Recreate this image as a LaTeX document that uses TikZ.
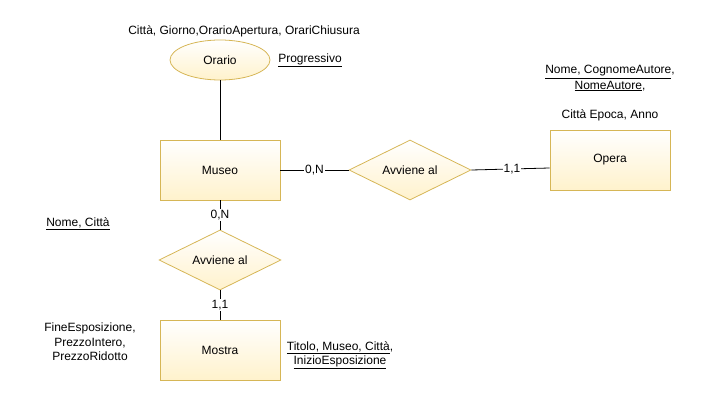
\documentclass[tikz,border=0pt]{standalone}
\usepackage{fontspec}
\setmainfont{Liberation Sans}
\usetikzlibrary{shapes.geometric}
\definecolor{erfill}{HTML}{FFF2CC}
\definecolor{erline}{HTML}{D6B656}
\tikzset{
  txt/.style={font=\fontsize{12}{14}\selectfont},
  entity/.style={txt, draw=erline, top color=white, bottom color=erfill, minimum width=120pt, minimum height=60pt, inner sep=0pt, line width=0.8pt},
  relation/.style={txt, diamond, aspect=2, draw=erline, top color=white, bottom color=erfill, minimum width=122pt, minimum height=60pt, inner sep=0pt, line width=0.8pt},
  attrib/.style={txt, ellipse, draw=erline, top color=white, bottom color=erfill, minimum width=100pt, minimum height=40pt, inner sep=0pt, line width=0.8pt},
  conn/.style={draw=black, line width=0.8pt},
  card/.style={txt, fill=white, inner sep=1pt},
  label/.style={txt, align=center, inner sep=0pt},
}
\begin{document}
\begin{tikzpicture}[x=1pt,y=-1pt]
\useasboundingbox (0,0) rectangle (701,401);
\node[attrib] (orario) at (220,60) {Orario};
\node[entity] (museo) at (220,170) {Museo};
\node[relation] (rel1) at (410,170) {Avviene al};
\node[entity] (opera) at (610,160) {Opera};
\node[relation] (rel2) at (220,260) {Avviene al};
\node[entity] (mostra) at (220,350) {Mostra};

\draw[conn] (orario) -- (museo);
\draw[conn] (museo.east) -- node[card] (c1) {0,N} (rel1.west);
\draw[conn] (rel1.east) -- node[card,pos=0.52] (c2) {1,1} (opera.west |- 0,168);
\draw[conn] (museo.south) -- node[card] (c3) {0,N} (rel2.north);
\draw[conn] (rel2.south) -- node[card] (c4) {1,1} (mostra.north);

\node[label] (t1) at (244,31) {Città, Giorno,OrarioApertura, OrariChiusura};
\node[label] (t2) at (310,60) {\underline{Progressivo}};
\node[label] (t3) at (610,72) {\underline{Nome, CognomeAutore},};
\node[label] (t4) at (610,86) {\underline{NomeAutore},};
\node[label] (t5) at (610,115) {Città Epoca, Anno};
\node[label] (t6) at (78,224) {\underline{Nome, Città}};
\node[label, font=\fontsize{12}{14.5}\selectfont] (t7) at (90,342) {FineEsposizione,\\PrezzoIntero,\\PrezzoRidotto};
\node[label, font=\fontsize{12}{14}\selectfont] (t8) at (340,355) {\underline{Titolo, Museo, Città},\\\underline{InizioEsposizione}};
\end{tikzpicture}
\end{document}
